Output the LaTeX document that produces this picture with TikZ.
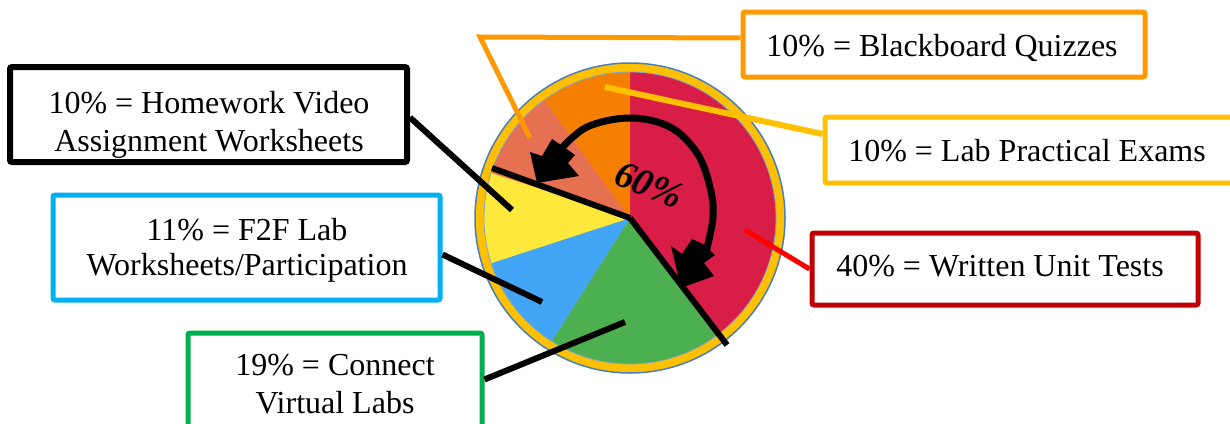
\documentclass[tikz,border=0pt]{standalone}
\usepackage{fontspec}
\setmainfont{Liberation Serif}
\usetikzlibrary{calc}
\definecolor{cRed}{HTML}{D81E46}
\definecolor{cOrange}{HTML}{F57F00}
\definecolor{cSalmon}{HTML}{E57052}
\definecolor{cYellow}{HTML}{FFE83C}
\definecolor{cBlue}{HTML}{42A5F5}
\definecolor{cGreen}{HTML}{4CAF50}
\definecolor{cGold}{HTML}{FFC000}
\definecolor{cRim}{HTML}{4A7EBB}
\definecolor{bOrange}{HTML}{FF9900}
\definecolor{bGold}{HTML}{FFC000}
\definecolor{bDark}{HTML}{C00000}
\definecolor{bLine}{HTML}{FF0000}
\definecolor{bCyan}{HTML}{00B0F0}
\definecolor{bGreen}{HTML}{00B050}
\begin{document}
\begin{tikzpicture}[x=1pt,y=-1pt,
  box/.style={draw=#1, line width=5pt, rounded corners=2pt, inner sep=0pt, fill=white},
  txt/.style={font=\fontsize{32}{37}\selectfont, anchor=base, inner sep=0pt},
  conn/.style={line width=6pt}]
\useasboundingbox (0,0) rectangle (1230,423);
\clip (0,0) rectangle (1230,423);

% pie
\coordinate (c) at (630,218);
\fill[cGold, draw=cRim, line width=1.5pt] (c) circle[radius=155];
\fill[cRed]    (c) -- ++(-90:146) arc[start angle=-90, end angle=54, radius=146] -- cycle;
\fill[cGreen]  (c) -- ++(54:146) arc[start angle=54, end angle=122.4, radius=146] -- cycle;
\fill[cBlue]   (c) -- ++(122.4:146) arc[start angle=122.4, end angle=162, radius=146] -- cycle;
\fill[cYellow] (c) -- ++(162:146) arc[start angle=162, end angle=198, radius=146] -- cycle;
\fill[cSalmon] (c) -- ++(198:146) arc[start angle=198, end angle=234, radius=146] -- cycle;
\fill[cOrange] (c) -- ++(234:146) arc[start angle=234, end angle=270, radius=146] -- cycle;
\draw[cRim!70, line width=0.8pt] (c) circle[radius=146];

% boxes
\node[box=bOrange, minimum width=402, minimum height=65] (bq) at (944,44.5) {};
\node[box=bGold, minimum width=420, minimum height=66] (lp) at (1035,150) {};
\node[box=bDark, minimum width=386, minimum height=72] (wu) at (1005,269) {};
\node[box=black, line width=6pt, minimum width=397, minimum height=95] (hw) at (208.5,114.5) {};
\node[box=bCyan, minimum width=387, minimum height=105] (ff) at (246.5,247.5) {};
\node[box=bGreen, minimum width=294, minimum height=107] (cv) at (335,386.5) {};

% texts
\node[txt] (bqt) at (942,56) {10\% = Blackboard Quizzes};
\node[txt] (lpt) at (1027,161.5) {10\% = Lab Practical Exams};
\node[txt] (wut) at (1000,276.5) {40\% = Written Unit Tests};
\node[txt] (hwt1) at (209,113) {10\% = Homework Video};
\node[txt] (hwt2) at (209,151.5) {Assignment Worksheets};
\node[txt] (fft1) at (247,240) {11\% = F2F Lab};
\node[txt] (fft2) at (247,275) {Worksheets/Participation};
\node[txt] (cvt1) at (335,375) {19\% = Connect};
\node[txt] (cvt2) at (335,413) {Virtual Labs};

% connector end points
\coordinate (bqk) at (480,37);
\coordinate (bqp) at (530,138);
\coordinate (lpp) at (605,87);
\coordinate (wup) at (745,230);
\coordinate (hwp) at (512,210);
\coordinate (ffp) at (542,302);
\coordinate (cvp) at (625,322);
\coordinate (r1) at (727,345);
\coordinate (r2) at (492,168);

% radial black lines
\draw[conn] (c) -- (r1);
\draw[conn] (c) -- (r2);

% connectors
\draw[bOrange, line width=5pt] ($(bq.west)+(0,-6.5)$) -- (bqk) -- (bqp);
\draw[bGold, conn] ($(lp.west)+(0,-16)$) -- (lpp);
\draw[bLine, line width=5pt] (wu.west) -- (wup);
\draw[conn] ($(hw.east)+(0,3)$) -- (hwp);
\draw[conn] ($(ff.east)+(0,7)$) -- (ffp);
\draw[conn] ($(cv.east)+(0,-7)$) -- (cvp);

% curved arrow
\draw[line width=7pt] plot[smooth, tension=0.6] coordinates {(560,150) (587,127) (630,118) (670,127) (697,153) (710,187) (713,217) (706,252)};
\fill (537,183) -- (530,152) -- (542,156) -- (552,139) -- (564,147) -- (575,155) -- (568,163) -- (579,176) -- cycle;
\fill (681,288) -- (671,246) -- (682,254) -- (692,239) -- (703,244) -- (715,255) -- (704,263) -- (714,276) -- cycle;

\node[font=\fontsize{38}{42}\selectfont\bfseries\itshape, rotate=-22, inner sep=0pt] (pct) at (649,185) {60\%};
\end{tikzpicture}
\end{document}
